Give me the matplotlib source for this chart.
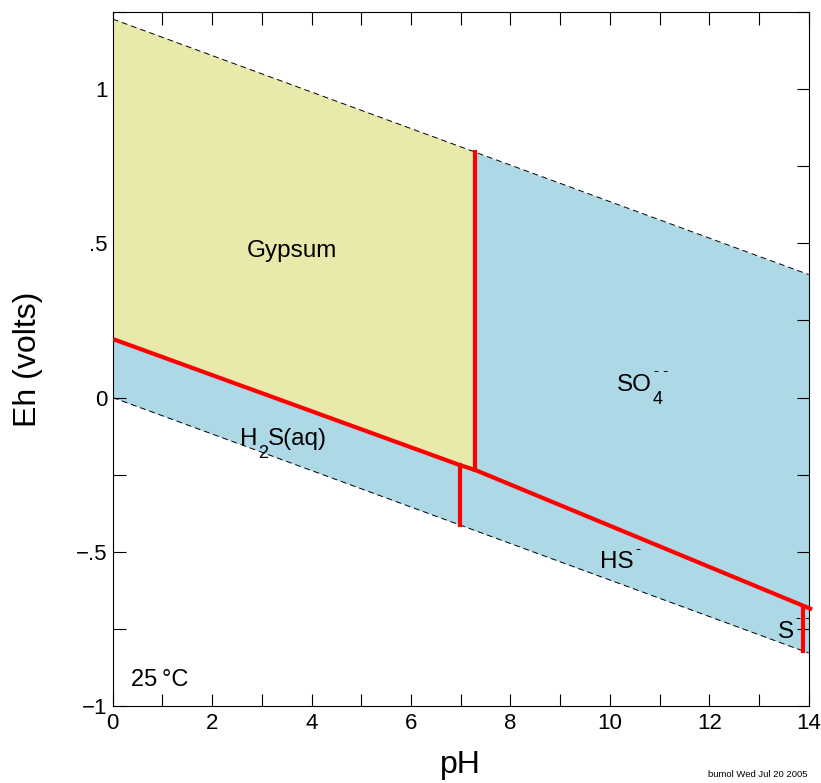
import numpy as np
import matplotlib
matplotlib.use("Agg")
import matplotlib.pyplot as plt
from matplotlib.ticker import FixedLocator, FixedFormatter, MultipleLocator

plt.rcParams['font.family'] = ['Liberation Sans', 'DejaVu Sans']

# water stability limits
ph_water = [0, 14]
eh_o2 = [1.228, 0.399]
eh_h2 = [0.0, -0.829]

# gypsum lower boundary (gypsum / H2S, gypsum / HS-)
ph_gyp = [0, 6.98, 7.29]
eh_gyp = [0.19, -0.219, -0.235]

# SO4-- / HS- boundary
ph_so4 = [7.29, 14.03]
eh_so4 = [-0.235, -0.685]

# vertical boundaries: pH, Eh bottom, Eh top
ph_vert = [7.29, 6.98, 13.89]
eh_vert_lo = [-0.235, -0.413, -0.822]
eh_vert_hi = [0.797, -0.219, -0.679]

# field labels: (text, subscript, superscript)
label_parts = [('Gypsum', '', ''), ('SO', '4', '- -'), ('H', '2', ''),
               ('HS', '', '-'), ('S', '', '- -')]
label_tail = ['', '', 'S(aq)', '', '']
label_ph = [2.7, 10.15, 2.56, 9.81, 13.39]
label_eh = [0.475, 0.04, -0.135, -0.535, -0.762]


def eh_line(ph, xs, ys):
    return np.interp(ph, xs, ys)


fig = plt.figure(figsize=(8.21, 7.83), dpi=100)
ax = fig.add_axes([0.1373, 0.0987, 0.8477, 0.8856])

# blue band between the water lines
ax.fill_between(ph_water, eh_h2, eh_o2, color='#add8e6', lw=0, zorder=1)

# gypsum field
top = [eh_line(p, ph_water, eh_o2) for p in ph_gyp[::-1]]
poly_x = list(ph_gyp[::-1]) + list(ph_gyp)
poly_y = top + list(eh_gyp)
ax.fill(poly_x, poly_y, color='#e8e9ab', lw=0, zorder=2)

# water lines
ax.plot(ph_water, eh_o2, '--', color='k', lw=0.7, dashes=(6, 4), zorder=3)
ax.plot(ph_water, eh_h2, '--', color='k', lw=0.7, dashes=(6, 4), zorder=3)

# red boundaries
ax.plot(ph_gyp, eh_gyp, color='red', lw=3, zorder=4, solid_capstyle='butt')
ax.plot(ph_so4, eh_so4, color='red', lw=3, zorder=4, clip_on=False)
for p, lo, hi in zip(ph_vert, eh_vert_lo, eh_vert_hi):
    ax.plot([p, p], [lo, hi], color='red', lw=3, zorder=4)

# compose labels piece by piece so sub/superscripts look like the original
fig.canvas.draw()
renderer = fig.canvas.get_renderer()
for (base, sub, sup), tail, x, y in zip(label_parts, label_tail, label_ph, label_eh):
    t = ax.text(x, y, base, fontsize=17.5, ha='left', va='center', zorder=5)
    bb = t.get_window_extent(renderer)
    w = bb.width * 72 / fig.dpi
    end = w
    if sub:
        s = ax.annotate(sub, (x, y), xytext=(w + 0.5, -10), textcoords='offset points',
                        fontsize=13, ha='left', va='center', zorder=5)
        end = w + 0.5 + s.get_window_extent(renderer).width * 72 / fig.dpi
    if sup:
        ax.annotate(sup, (x, y), xytext=(w + 1, 10), textcoords='offset points',
                    fontsize=11, ha='left', va='center', zorder=5)
    if tail:
        ax.annotate(tail, (x, y), xytext=(end, 0), textcoords='offset points',
                    fontsize=17.5, ha='left', va='center', zorder=5)

ax.text(0.36, -0.917, '25\u2009\u00b0C', fontsize=17, ha='left', va='center',
        family=['Liberation Sans', 'DejaVu Sans'])

ax.set_xlim(0, 14)
ax.set_ylim(-1, 1.25)
ax.xaxis.set_major_locator(MultipleLocator(2))
ax.xaxis.set_minor_locator(MultipleLocator(1))
ax.yaxis.set_major_locator(FixedLocator([-1, -0.5, 0, 0.5, 1]))
ax.yaxis.set_major_formatter(FixedFormatter(['\u22121', '\u2212.5', '0', '.5', '1']))
ax.yaxis.set_minor_locator(MultipleLocator(0.25))
ax.tick_params(which='both', direction='in', top=True, right=True, length=9, width=0.8,
               labelsize=16)
ax.tick_params(axis='x', pad=5)
for s in ax.spines.values():
    s.set_linewidth(0.8)

ax.set_xlabel('pH', fontsize=23, labelpad=12)
ax.set_ylabel('Eh (volts)', fontsize=23, labelpad=24)

fig.text(0.984, 0.005, 'bumol Wed Jul 20 2005', fontsize=6.8, ha='right', va='bottom')

fig.savefig('out.png', dpi=100)
